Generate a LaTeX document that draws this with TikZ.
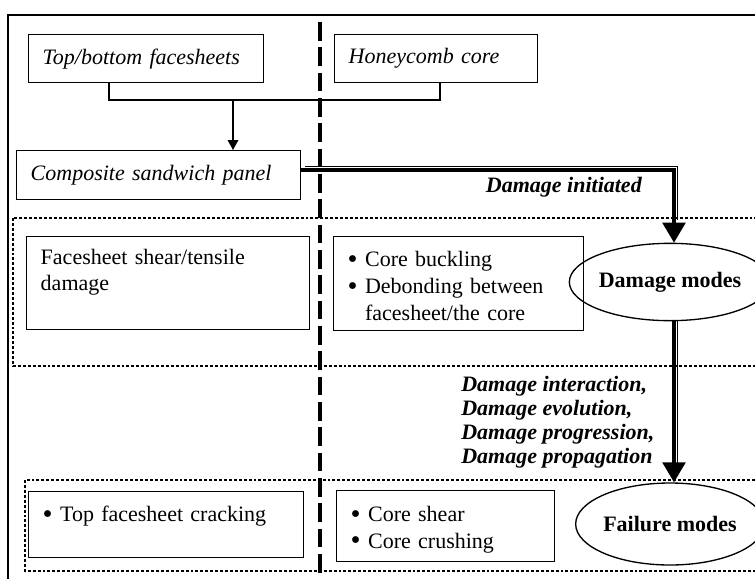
\documentclass[tikz,border=0pt]{standalone}
\usepackage{fontspec}
\setmainfont{Liberation Serif}
\usetikzlibrary{arrows.meta, positioning, calc, shapes.geometric}

% pallino degli elenchi, un po' piu' grande di \textbullet
\newcommand{\pallino}{\raisebox{-0.08em}{\scalebox{1.3}{\textbullet}}}

\begin{document}
\begin{tikzpicture}[
  x=0.75pt, y=-0.75pt,
  font=\fontsize{16.5}{19.5}\selectfont,
  riquadro/.style={draw=black, line width=1.1pt, anchor=north west, align=left,
                   inner xsep=10.5pt, inner ysep=4pt},
  titolo/.style={riquadro, font=\fontsize{16.5}{19}\selectfont\itshape},
  elenco/.style={riquadro, font=\fontsize{16.5}{20}\selectfont},
  alto/.style 2 args={text height=#1, text depth=#2},
  modo/.style={ellipse, draw=black, line width=1pt, inner sep=0pt,
               font=\fontsize{16.5}{19}\selectfont\bfseries},
  etichetta/.style={font=\fontsize{16.5}{18}\selectfont\bfseries\itshape, inner sep=0pt},
  area/.style={draw=black, line width=0.8pt, dash pattern=on 2.2pt off 1.5pt},
  divisore/.style={draw=black, line width=2.7pt, dash pattern=on 14pt off 5pt},
  linea/.style={draw=black, line width=1pt},
  grossa/.style={draw=black, line width=2.6pt},
  sottile/.style={draw=black, line width=0.8pt}
]

\useasboundingbox (0,0) rectangle (755,578);
\clip (0,0) rectangle (755,578);

% ---- cornice e zone tratteggiate ------------------------------------
\draw[line width=1.1pt] (8,15) rectangle (770,600);
\draw[area] (13,218) rectangle (770,366);   % modi di danno
\draw[area] (25,480) rectangle (770,571);   % modi di rottura

% ---- costituenti e pannello -----------------------------------------
\node[titolo, text width=155pt, minimum height=36pt] (pelli) at (28,34) {Top/bottom facesheets};
\node[titolo, text width=131pt, minimum height=36pt] (nido) at (334,34) {Honeycomb core};
\node[titolo, text width=192pt, minimum height=36.75pt] (pannello) at (16,150) {Composite sandwich panel};

% ---- riquadri dei meccanismi ----------------------------------------
\node[riquadro, text width=191pt, alto={17pt}{44.75pt}] (taglio) at (26,236)
  {Facesheet shear/tensile damage};
\node[elenco, text width=166.5pt, alto={18.5pt}{44pt}] (nucleo) at (333,236)
  {\begin{tabular}[t]{@{}l@{\ }l@{}}
     \pallino & Core buckling\\
     \pallino & Debonding between\\
              & facesheet/the core
   \end{tabular}};
\node[elenco, text width=185.25pt, alto={18.5pt}{23pt}] (cricca) at (28,491)
  {\begin{tabular}[t]{@{}l@{\ }l@{}}
     \pallino & Top facesheet cracking
   \end{tabular}};
\node[elenco, text width=142.5pt, alto={19pt}{26.25pt}] (schiaccia) at (336,490)
  {\begin{tabular}[t]{@{}l@{\ }l@{}}
     \pallino & Core shear\\
     \pallino & Core crushing
   \end{tabular}};

\node[modo, minimum width=120pt, minimum height=58pt] (danno) at (670,282) {Damage modes};
\node[modo, minimum width=124.5pt, minimum height=61.5pt] (guasto) at (670,524) {Failure modes};

% ---- scritte sulle frecce -------------------------------------------
\node[etichetta, anchor=east] (avvio) at (642,187) {Damage initiated};
\node[etichetta, anchor=west, align=left] (evoluzione) at (461,422)
  {Damage interaction,\\ Damage evolution,\\ Damage progression,\\ Damage propagation};

% ---- collegamenti ---------------------------------------------------
\coordinate (sx) at (109,100);
\coordinate (dx) at (440,100);
\coordinate (giunto) at (233,100);
\draw[linea] (pelli.south -| sx) -- (sx) -- (dx) -- (nido.south -| dx);
\draw[linea, -{Triangle[length=7.5pt, width=8pt]}] (giunto) -- (pannello.north -| giunto);

% freccia doppia: tratto spesso con filo sottile accostato
\coordinate (svolta) at (674,170);
\draw[grossa, -{Triangle[length=15pt, width=17pt]}]
  (pannello.east |- svolta) -- (svolta) -- (danno.north -| svolta);
\draw[sottile, shorten >=14pt, transform canvas={xshift=2.7pt, yshift=2.7pt}]
  (pannello.east |- svolta) -- (svolta) -- (danno.north -| svolta);
\draw[grossa, -{Triangle[length=15pt, width=17pt]}]
  (danno.south -| svolta) -- (guasto.north -| svolta);
\draw[sottile, shorten >=14pt, transform canvas={xshift=2.7pt}]
  (danno.south -| svolta) -- (guasto.north -| svolta);

% linea di separazione pelli / nido d'ape
\draw[divisore] (320,22) -- (320,580);

\end{tikzpicture}
\end{document}
